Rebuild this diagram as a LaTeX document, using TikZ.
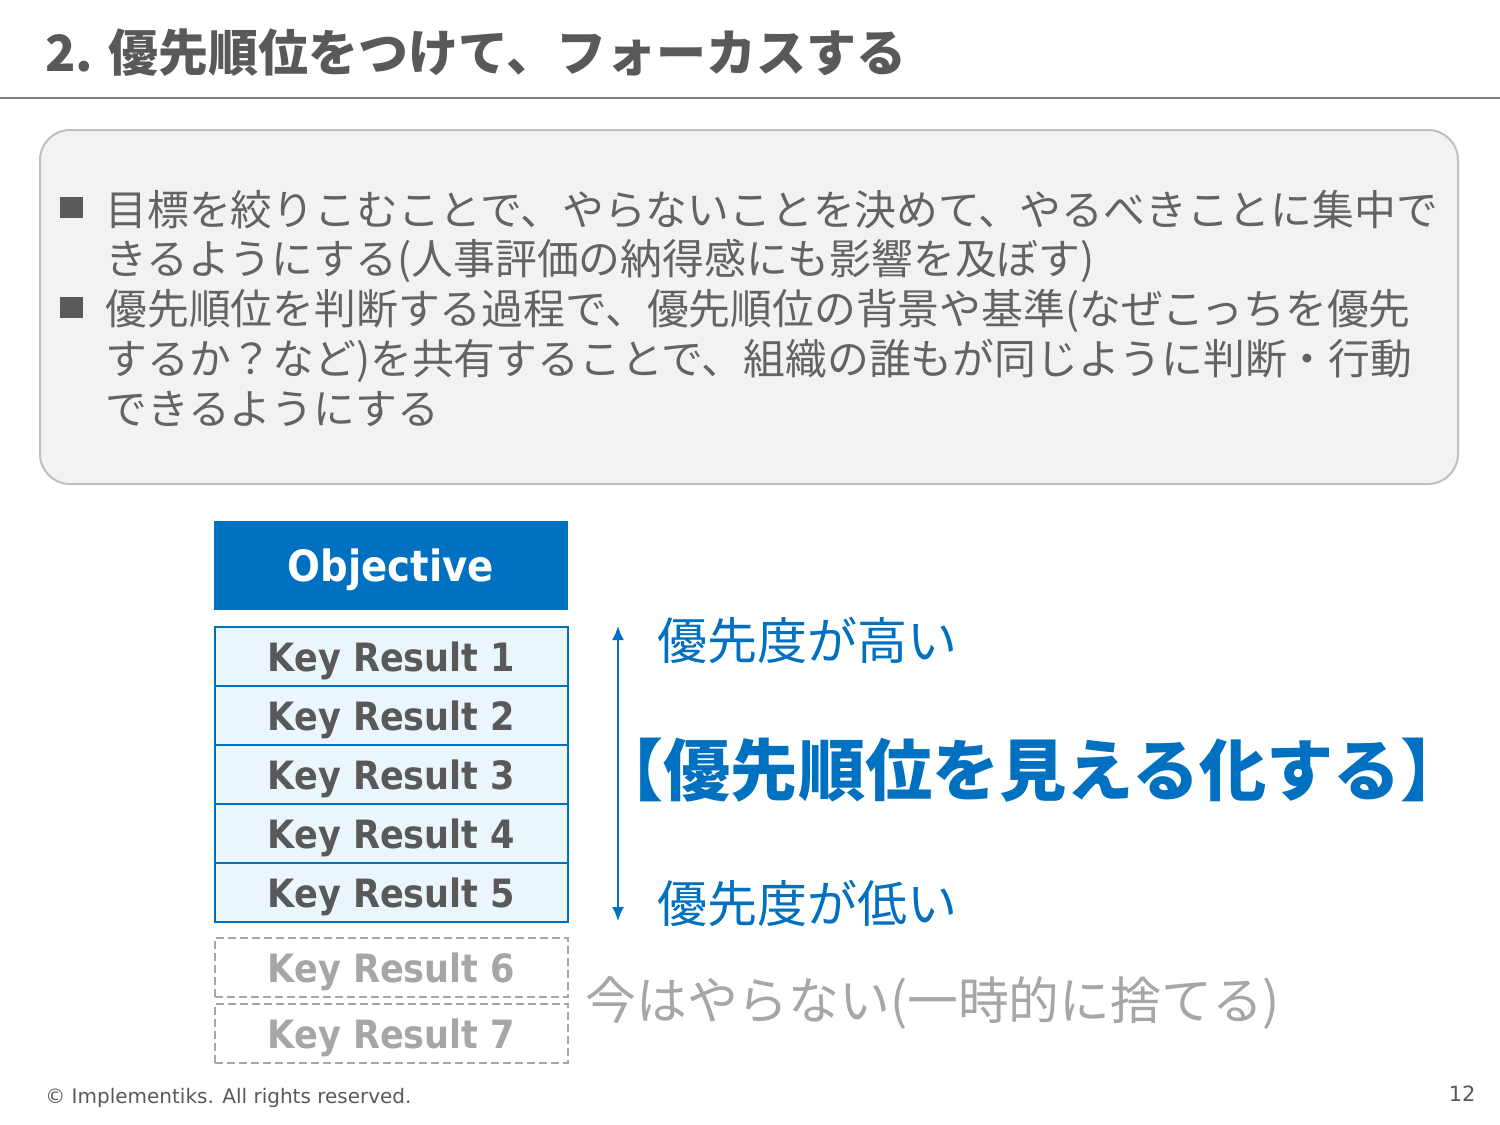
\documentclass[tikz,border=0pt]{standalone}
\usepackage{fontspec}
\setmainfont{DejaVu Sans}
\newfontfamily\jp{Noto Sans CJK JP}
\newfontfamily\vdb[FakeStretch=0.9]{DejaVu Sans Bold}
\newfontfamily\vd{DejaVu Sans}
\usetikzlibrary{arrows.meta}
\definecolor{okrblue}{HTML}{0070C0}
\definecolor{krfill}{HTML}{EBF5FC}
\definecolor{dgray}{HTML}{595959}
\definecolor{bgray}{HTML}{636363}
\definecolor{lgray}{HTML}{A6A6A6}
\definecolor{panelfill}{HTML}{F2F2F2}
\definecolor{panelline}{HTML}{BFBFBF}
\definecolor{rulegray}{HTML}{7F7F7F}
\newcommand{\krfont}{\vdb\fontsize{19.5}{22}\selectfont}
\newcommand{\bodyfont}{\jp\fontsize{20.9}{25}\selectfont}
\newcommand{\sidefont}{\jp\fontsize{25}{30}\selectfont}
\tikzset{
  txt/.style={inner sep=0pt, anchor=base west},
  krbox/.style={draw=okrblue, fill=krfill, line width=1pt, minimum width=176.5pt,
    minimum height=29.5pt, inner sep=0pt, text depth=0pt, text=dgray, font=\krfont},
  krdash/.style={draw=lgray, dash pattern=on 4pt off 2pt, line width=0.8pt,
    minimum width=176.5pt, minimum height=29.5pt, inner sep=0pt, text depth=0pt, text=lgray, font=\krfont},
  objbox/.style={fill=okrblue, minimum width=177pt, minimum height=44.5pt, inner sep=0pt,
    text depth=0pt, text=white, font=\vdb\fontsize{21.5}{24}\selectfont},
  panel/.style={fill=panelfill, draw=panelline, line width=1pt, rounded corners=15pt,
    minimum width=709pt, minimum height=177pt, inner sep=0pt},
  bulletsq/.style={fill=dgray, minimum width=11.5pt, minimum height=10.5pt, inner sep=0pt},
  body/.style={txt, text=bgray, font=\bodyfont},
  side/.style={txt, text=okrblue, font=\sidefont},
}
\begin{document}
\begin{tikzpicture}[x=0.5pt,y=-0.5pt]
\useasboundingbox (0,0) rectangle (1500,1125);
\fill[white] (0,0) rectangle (1500,1125);
% title
\node[txt, text=dgray, font=\jp\bfseries\fontsize{25}{30}\selectfont] (title) at (45,71)
  {2. 優先順位をつけて、フォーカスする};
\draw[rulegray, line width=1pt] (0,98) -- (1500,98);
% panel
\node[panel] (panel) at (749,307) {};
\node[bulletsq] (b1) at (71.5,207.5) {};
\node[bulletsq] (b2) at (71.5,307.5) {};
\node[body] (t1a) at (105,225) {目標を絞りこむことで、やらないことを決めて、やるべきことに集中で};
\node[body] (t1b) at (105,274) {きるようにする(人事評価の納得感にも影響を及ぼす)};
\node[body] (t2a) at (105,324) {優先順位を判断する過程で、優先順位の背景や基準(なぜこっちを優先};
\node[body] (t2b) at (105,374) {するか？など)を共有することで、組織の誰もが同じように判断・行動};
\node[body] (t2c) at (105,424) {できるようにする};
% objective and key results
\node[objbox] (obj) at (391,565.5) {Objective};
\node[krbox] (kr1) at (391.5,656.5) {Key Result 1};
\node[krbox] (kr2) at (391.5,715.5) {Key Result 2};
\node[krbox] (kr3) at (391.5,774.5) {Key Result 3};
\node[krbox] (kr4) at (391.5,833.5) {Key Result 4};
\node[krbox] (kr5) at (391.5,892.5) {Key Result 5};
\node[krdash] (kr6) at (391.5,967.5) {Key Result 6};
\node[krdash] (kr7) at (391.5,1033.5) {Key Result 7};
% priority arrow
\coordinate (atop) at (618,626);
\coordinate (abot) at (618,921);
\draw[okrblue, line width=1pt, {Latex[length=7pt,width=6pt]}-{Latex[length=7pt,width=6pt]}] (atop) -- (abot);
\node[side] (high) at (657,659) {優先度が高い};
\node[side] (low) at (657,922) {優先度が低い};
\node[txt, text=okrblue, font=\jp\bfseries\fontsize{33.6}{40}\selectfont] (vis) at (596,795)
  {【優先順位を見える化する】};
\node[txt, text=lgray, font=\jp\fontsize{25.4}{30}\selectfont] (drop) at (585,1019) {今はやらない(一時的に捨てる)};
% footer
\node[txt, text=dgray, font=\vd\fontsize{10}{12}\selectfont] (foot) at (45,1103)
  {© Implementiks. All rights reserved.};
\node[inner sep=0pt, anchor=base east, text=dgray, font=\vd\fontsize{10.5}{12}\selectfont] (pnum) at (1476,1101) {12};
\end{tikzpicture}
\end{document}
